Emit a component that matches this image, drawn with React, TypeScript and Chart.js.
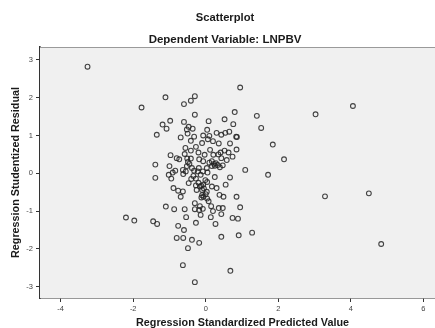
import React, { useEffect, useRef } from "react";
import { Chart, registerables } from "chart.js";

Chart.register(...registerables);

const chartTitle = "Scatterplot";
const chartSubtitle = "Dependent Variable: LNPBV";
const xAxisTitle = "Regression Standardized Predicted Value";
const yAxisTitle = "Regression Studentized Residual";

const xTicks = [-4, -2, 0, 2, 4, 6];
const yTicks = [-3, -2, -1, 0, 1, 2, 3];

// Regression Standardized Predicted Value
const predicted = [
  -3.26, -1.77, -2.2, -1.97, 3.03, 4.06, 3.29, 4.5, 4.84, 2.16, 1.85, 1.72, 1.53, 1.41, 1.28, 1.09, -0.3, 0.68, -0.63,
  0.95, -1.11, -0.3, -0.41, -0.6, -0.3, 0.8, -0.98, -1.19, -1.08, -0.6, -0.47, -0.52, -0.36, 0.08, 0.52, 0.76,
  -1.35, -0.69, -0.41, -0.32, -0.07, 0.04, 0.1, 0.06, 0.3, 0.43, 0.54, 0.84, 0.86, 0.36, 0.67,
  -0.27, -0.56, -0.41, -0.58, -0.97, -0.73, 0.85, 0.41, 0.52, 0.63, 0.74, -0.03, 0.21, 0.43,
  -1.39, -1.0, -0.51, -0.41, -0.18, -0.07, 0.1, 0.17, 0.23, 0.47, 0.39, -0.49, -0.52, -0.38, -0.63, -0.84, -0.91, -1.02, -0.95,
  -0.62, -0.32, -0.19, 0.03, 0.17, -0.14, -0.34, -1.39, 0.67, -0.27, -0.01, 0.04, -0.47, -0.27, -0.16, -0.07, 0.17, 0.3,
  -0.89, -0.76, -0.63, -0.69, -0.25, -0.1, 0.03, -0.12, 0.04, 0.38, 0.49, 0.85, -0.3, 0.08, -0.16, 0.15,
  -1.1, -0.87, -0.58, -0.08, -0.18, 0.36, 0.47, 0.95, -0.54, -0.14, 0.43, 0.14, 0.74, 0.89,
  -1.45, -1.34, -0.27, 0.27, -0.76, -0.6, 0.91, -0.8, -0.62, -0.38, -0.18, 0.43, -0.49,
  0.28, 0.33, 0.25, -0.12, -0.05, -0.2, -0.1, -0.06, 0.0, -0.22, -0.08, 0.05, -0.45, -0.55, -0.3, 0.2, 0.58, 0.35,
  -0.2, 0.12, -0.1, 0.2, -0.4, 0.25, -0.5, 0.65, -0.8, 0.55,
];

// Regression Studentized Residual
const residual = [
  2.82, 1.74, -1.17, -1.25, 1.56, 1.78, -0.61, -0.53, -1.87, 0.37, 0.76, -0.04, 1.2, 1.52, -1.57, 0.09, -2.88, -2.58, -2.43,
  2.27, 2.01, 2.04, 1.92, 1.83, 1.55, 1.62, 1.39, 1.29, 1.18, 1.36, 1.23, 1.16, 1.18, 1.38, 1.43, 1.3,
  1.02, 0.95, 0.86, 0.97, 1.0, 1.15, 0.99, 0.9, 1.07, 1.02, 1.07, 0.97, 0.96, 0.79, 0.79,
  0.7, 0.67, 0.6, 0.51, 0.48, 0.37, 0.63, 0.55, 0.6, 0.55, 0.44, 0.49, 0.49, 0.4,
  0.23, 0.19, 0.39, 0.39, 0.37, 0.32, 0.28, 0.32, 0.25, 0.21, 0.16, 0.3, 0.19, 0.14, 0.09, 0.07, 0.02, -0.04, -0.14,
  -0.02, 0.07, 0.14, 0.14, 0.19, -0.04, -0.07, -0.12, -0.11, -0.14, -0.18, -0.23, -0.26, -0.32, -0.35, -0.3, -0.35, -0.39,
  -0.39, -0.46, -0.48, -0.62, -0.44, -0.44, -0.49, -0.64, -0.67, -0.57, -0.62, -0.62, -0.79, -0.74, -0.87, -0.87,
  -0.88, -0.95, -0.95, -0.94, -0.97, -0.92, -0.92, -0.9, -1.16, -1.1, -1.08, -1.16, -1.18, -1.2,
  -1.27, -1.34, -1.31, -1.34, -1.39, -1.5, -1.64, -1.71, -1.71, -1.76, -1.84, -1.68, -1.98,
  0.27, 0.22, 0.2, -0.33, -0.4, -0.25, -0.58, -0.62, -0.55, 0.05, 0.05, 0.02, 0.25, 0.05, -0.95, -1.0, 0.35, 0.5,
  0.55, 0.62, 0.8, 0.85, -0.15, -0.1, 1.05, 1.1, 0.4, -0.3,
];

const FONT = "'Liberation Sans', Arial, 'DejaVu Sans', sans-serif";

export default function App() {
  const ref = useRef<HTMLCanvasElement | null>(null);

  useEffect(() => {
    const canvas = ref.current;
    if (!canvas) return;
    const points = predicted.map((x, i) => ({ x, y: residual[i] }));

    const decor = {
      id: "decor",
      beforeDatasetsDraw(chart: any) {
        const { ctx, chartArea } = chart;
        ctx.save();
        ctx.fillStyle = "#f0f0f0";
        ctx.fillRect(chartArea.left, chartArea.top, chartArea.right - chartArea.left, chartArea.bottom - chartArea.top);
        ctx.strokeStyle = "#9a9a9a";
        ctx.lineWidth = 1.2;
        ctx.beginPath();
        ctx.moveTo(chartArea.left, chartArea.top + 0.5);
        ctx.lineTo(chartArea.right, chartArea.top + 0.5);
        ctx.stroke();
        ctx.restore();
      },
      afterDraw(chart: any) {
        const { ctx, chartArea } = chart;
        ctx.save();
        ctx.fillStyle = "#1a1a1a";
        ctx.textAlign = "center";
        ctx.textBaseline = "middle";
        ctx.font = `bold 11.2px ${FONT}`;
        ctx.fillText(chartTitle, 225, 18);
        ctx.font = `bold 11.5px ${FONT}`;
        ctx.fillText(chartSubtitle, 225, 39.5);
        ctx.font = `bold 10.8px ${FONT}`;
        ctx.fillText(xAxisTitle, (chartArea.left + chartArea.right) / 2, 323.5);
        ctx.translate(16, (chartArea.top + chartArea.bottom) / 2);
        ctx.rotate(-Math.PI / 2);
        ctx.fillText(yAxisTitle, 0, 0);
        ctx.restore();
      },
    };

    const chart = new Chart(canvas, {
      type: "scatter",
      data: {
        datasets: [
          {
            data: points,
            pointStyle: "circle",
            pointRadius: 2.4,
            pointHoverRadius: 2.4,
            pointBorderWidth: 1.1,
            borderColor: "rgba(35,35,35,0.85)",
            backgroundColor: "rgba(0,0,0,0)",
          },
        ],
      },
      options: {
        animation: false,
        responsive: false,
        devicePixelRatio: 1,
        layout: { padding: { top: 47, left: 0, right: 5, bottom: 0 } },
        plugins: { legend: { display: false }, tooltip: { enabled: false }, title: { display: false } },
        scales: {
          x: {
            type: "linear",
            min: -4.571,
            max: 6.6,
            afterFit: (s: any) => {
              s.height = 30;
            },
            afterBuildTicks: (s: any) => {
              s.ticks = xTicks.map((v) => ({ value: v }));
            },
            grid: { drawOnChartArea: false, drawTicks: true, tickLength: 4, color: "#333", lineWidth: 1 },
            border: { display: true, color: "#333", width: 1.6 },
            ticks: { color: "#444", font: { size: 7.5, family: FONT }, padding: 2, maxRotation: 0 },
          },
          y: {
            type: "linear",
            min: -3.299,
            max: 3.341,
            afterFit: (s: any) => {
              s.width = 40;
            },
            afterBuildTicks: (s: any) => {
              s.ticks = yTicks.map((v) => ({ value: v }));
            },
            grid: { drawOnChartArea: false, drawTicks: true, tickLength: 4, color: "#333", lineWidth: 1 },
            border: { display: true, color: "#333", width: 1.6 },
            ticks: { color: "#444", font: { size: 7.5, family: FONT }, padding: 3 },
          },
        },
      },
      plugins: [decor],
    });
    return () => chart.destroy();
  }, []);

  return (
    <div
      style={{
        position: "fixed",
        left: 0,
        top: 0,
        width: 435,
        height: 328,
        overflow: "hidden",
        background: "#fff",
      }}
    >
      <canvas ref={ref} width={450} height={328} style={{ display: "block", width: 450, height: 328 }} />
    </div>
  );
}
